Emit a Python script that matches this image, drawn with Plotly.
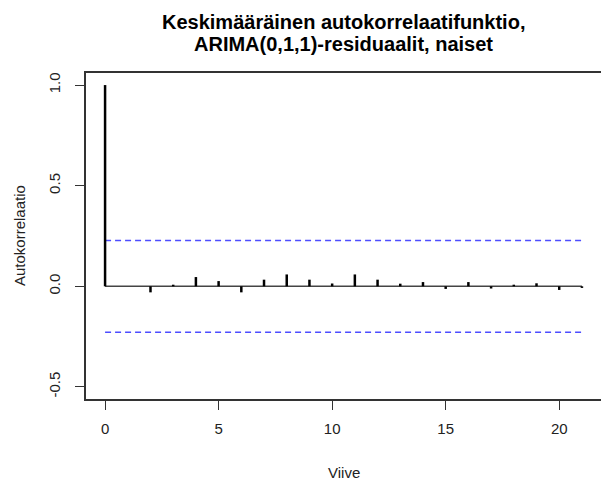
import plotly.graph_objects as go

lags = list(range(0, 22))
acf = [1.0, 0.0, -0.030, 0.008, 0.046, 0.026, -0.030, 0.033, 0.059, 0.033, 0.014,
       0.059, 0.033, 0.013, 0.021, -0.013, 0.021, -0.011, 0.008, 0.015, -0.018, -0.008]
conf = 0.228

title_lines = ["Keskimääräinen autokorrelaatifunktio,", "ARIMA(0,1,1)-residuaalit, naiset"]
x_title = "Viive"
y_title = "Autokorrelaatio"
x_ticks = [0, 5, 10, 15, 20]
y_ticks = [-0.5, 0.0, 0.5, 1.0]
y_ticktext = ["-0.5", "0.0", "0.5", "1.0"]

FONT = "Liberation Sans, Arial, sans-serif"

seg_x, seg_y = [], []
for l, v in zip(lags, acf):
    seg_x += [l, l, None]
    seg_y += [0, v, None]

fig = go.Figure()
fig.add_trace(go.Scatter(x=[lags[0], lags[-1]], y=[0, 0], mode="lines",
                         line=dict(color="#444444", width=1.5), hoverinfo="skip"))
for c in (conf, -conf):
    fig.add_trace(go.Scatter(x=[lags[0], lags[-1]], y=[c, c], mode="lines",
                             line=dict(color="#4d4dff", width=1.5, dash="6px,4px"),
                             hoverinfo="skip"))
fig.add_trace(go.Scatter(x=seg_x, y=seg_y, mode="lines",
                         line=dict(color="black", width=2.5), hoverinfo="skip"))

annotations = [
    dict(text="<b>%s</b>" % title_lines[0], xref="paper", yref="paper", x=0.5, y=1,
         xanchor="center", yanchor="middle", yshift=51, showarrow=False,
         font=dict(family=FONT, size=20, color="black")),
    dict(text="<b>%s</b>" % title_lines[1], xref="paper", yref="paper", x=0.5, y=1,
         xanchor="center", yanchor="middle", yshift=29, showarrow=False,
         font=dict(family=FONT, size=20, color="black")),
    dict(text=x_title, xref="paper", yref="paper", x=0.5, y=0,
         xanchor="center", yanchor="middle", yshift=-73, showarrow=False,
         font=dict(family=FONT, size=15, color="#222222")),
    dict(text=y_title, xref="paper", yref="paper", x=0, y=0.5, textangle=-90,
         xanchor="center", yanchor="middle", xshift=-67, showarrow=False,
         font=dict(family=FONT, size=15, color="#222222")),
]

axis_common = dict(ticks="outside", ticklen=9, tickcolor="#333333", tickwidth=1,
                   showline=True, linecolor="#333333", linewidth=1.5,
                   showgrid=False, zeroline=False, automargin=False,
                   tickfont=dict(family=FONT, size=15, color="#222222"))

fig.update_layout(
    width=601, height=485,
    paper_bgcolor="white", plot_bgcolor="white",
    showlegend=False,
    margin=dict(l=86, r=0, t=73, b=86),
    font=dict(family=FONT, size=15, color="#222222"),
    annotations=annotations,
    xaxis=dict(range=[-0.84, 21.84], tickmode="array", tickvals=x_ticks,
               ticklabelstandoff=6, mirror=True, **axis_common),
    yaxis=dict(range=[-0.56, 1.06], tickmode="array", tickvals=y_ticks,
               ticktext=y_ticktext, tickangle=-90, ticklabelstandoff=9,
               mirror=False, **axis_common),
)

fig.write_html("out.html", config={"displayModeBar": False},
               post_script="document.body.style.margin='0';document.body.style.overflow='hidden';")
